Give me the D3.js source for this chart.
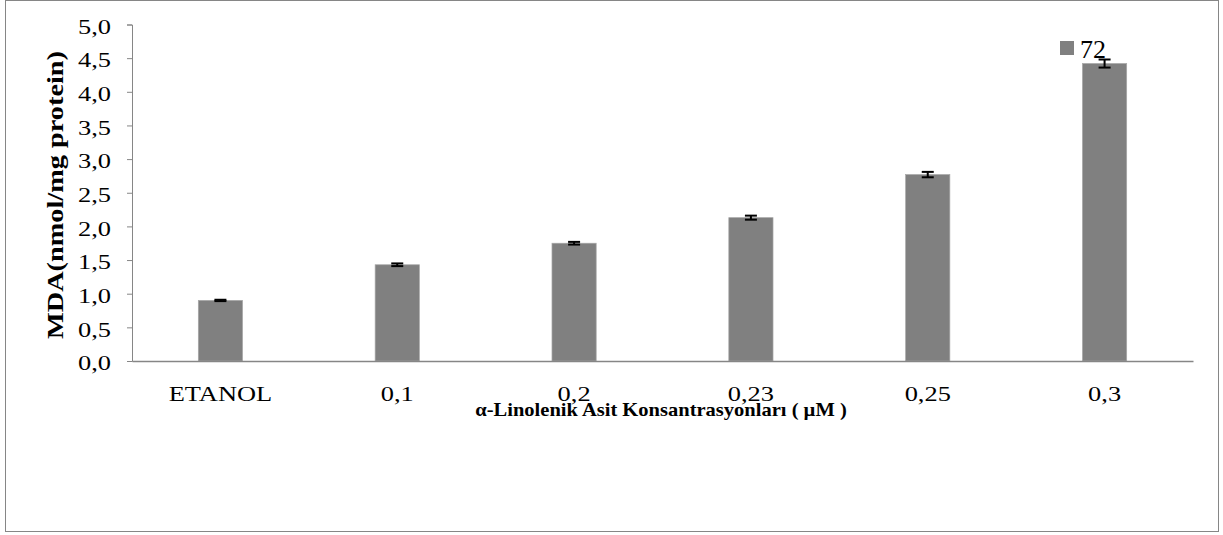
<!DOCTYPE html>
<html>
<head>
<meta charset="utf-8">
<script src="https://cdn.jsdelivr.net/npm/d3@7"></script>
<style>
  body { margin: 0; background: #fff; }
</style>
</head>
<body>
<div class="canvas"></div>
<script>
var categories = ["ETANOL", "0,1", "0,2", "0,23", "0,25", "0,3"];
var values = [0.90, 1.43, 1.75, 2.13, 2.77, 4.42];
var errors = [0.01, 0.02, 0.02, 0.03, 0.04, 0.06];
var yTicks = [0, 0.5, 1, 1.5, 2, 2.5, 3, 3.5, 4, 4.5, 5];
var seriesName = "72";

var width = 1223,
    height = 535;
var serif = "'Liberation Serif', 'Times New Roman', 'DejaVu Serif', serif";
// the original text is a bit stretched sideways
var stretch = 1.2;

var svg = d3.select(".canvas").append("svg")
    .attr("width", width)
    .attr("height", height)
    .style("font-family", serif);

// outer frame
svg.append("rect")
    .attr("x", 5.5).attr("y", 0.5)
    .attr("width", 1213).attr("height", 531)
    .attr("fill", "none")
    .attr("stroke", "#868686");

// plot area edges
var plotLeft = 132, plotRight = 1193, plotTop = 24.5, plotBottom = 361;

var x = d3.scaleBand()
    .domain(categories)
    .range([plotLeft, plotRight])
    .paddingInner(0.75)
    .paddingOuter(0.375);

var y = d3.scaleLinear()
    .domain([0, 5])
    .range([plotBottom, plotTop]);

var fmt = function(d) { return d3.format(".1f")(d).replace(".", ","); };

// y axis
var yAxis = svg.append("g")
    .attr("transform", "translate(" + plotLeft + ",0)")
    .call(d3.axisLeft(y).tickValues(yTicks).tickFormat(fmt).tickSizeOuter(0).tickSize(5));
yAxis.attr("font-family", null).attr("font-size", null);
yAxis.select(".domain").attr("stroke", "#868686");
yAxis.selectAll(".tick line").attr("stroke", "#868686");
yAxis.selectAll("text")
    .attr("x", -21 / stretch)
    .attr("dy", "0.4em")
    .attr("transform", "scale(" + stretch + ",1)")
    .style("font-family", serif)
    .style("font-size", "22px")
    .attr("fill", "#000");

// bars
svg.append("g").selectAll("rect")
    .data(values)
    .join("rect")
    .attr("x", function(d, i) { return x(categories[i]); })
    .attr("y", function(d) { return y(d); })
    .attr("width", x.bandwidth())
    .attr("height", function(d) { return plotBottom - y(d); })
    .attr("fill", "#808080")
    .attr("stroke", "#a6a6a6")
    .attr("stroke-width", 0.7);

// error bars
var eb = svg.append("g").attr("stroke", "#000").attr("stroke-width", 2);
values.forEach(function(d, i) {
    var cx = x(categories[i]) + x.bandwidth() / 2;
    var y1 = y(d + errors[i]), y2 = y(d - errors[i]);
    eb.append("line").attr("x1", cx).attr("x2", cx).attr("y1", y1).attr("y2", y2);
    eb.append("line").attr("x1", cx - 6).attr("x2", cx + 6).attr("y1", y1).attr("y2", y1);
    eb.append("line").attr("x1", cx - 6).attr("x2", cx + 6).attr("y1", y2).attr("y2", y2);
});

// x axis
var xAxis = svg.append("g")
    .attr("transform", "translate(0," + plotBottom + ")")
    .call(d3.axisBottom(x).tickSize(0).tickPadding(24));
xAxis.attr("font-family", null).attr("font-size", null);
xAxis.select(".domain").attr("stroke", "#868686").attr("stroke-width", 1.5);
xAxis.selectAll("text")
    .attr("transform", "scale(" + stretch + ",1)")
    .style("font-family", serif)
    .style("font-size", "22px")
    .attr("fill", "#000");

// axis titles
svg.append("text")
    .attr("transform", "translate(63,195) rotate(-90) scale(1.18,1)")
    .attr("text-anchor", "middle")
    .style("font-family", serif)
    .style("font-size", "24px")
    .attr("font-weight", "bold")
    .text("MDA(nmol/mg protein)");

svg.append("text")
    .attr("transform", "translate(661,416) scale(1.14,1)")
    .attr("text-anchor", "middle")
    .style("font-family", serif)
    .style("font-size", "18px")
    .attr("font-weight", "bold")
    .text("α-Linolenik Asit Konsantrasyonları ( µM )");

// legend
svg.append("rect")
    .attr("x", 1060).attr("y", 41)
    .attr("width", 14).attr("height", 14)
    .attr("fill", "#808080");
svg.append("text")
    .attr("x", 1080).attr("y", 58)
    .style("font-family", serif)
    .style("font-size", "26px")
    .text(seriesName);
</script>
</body>
</html>
